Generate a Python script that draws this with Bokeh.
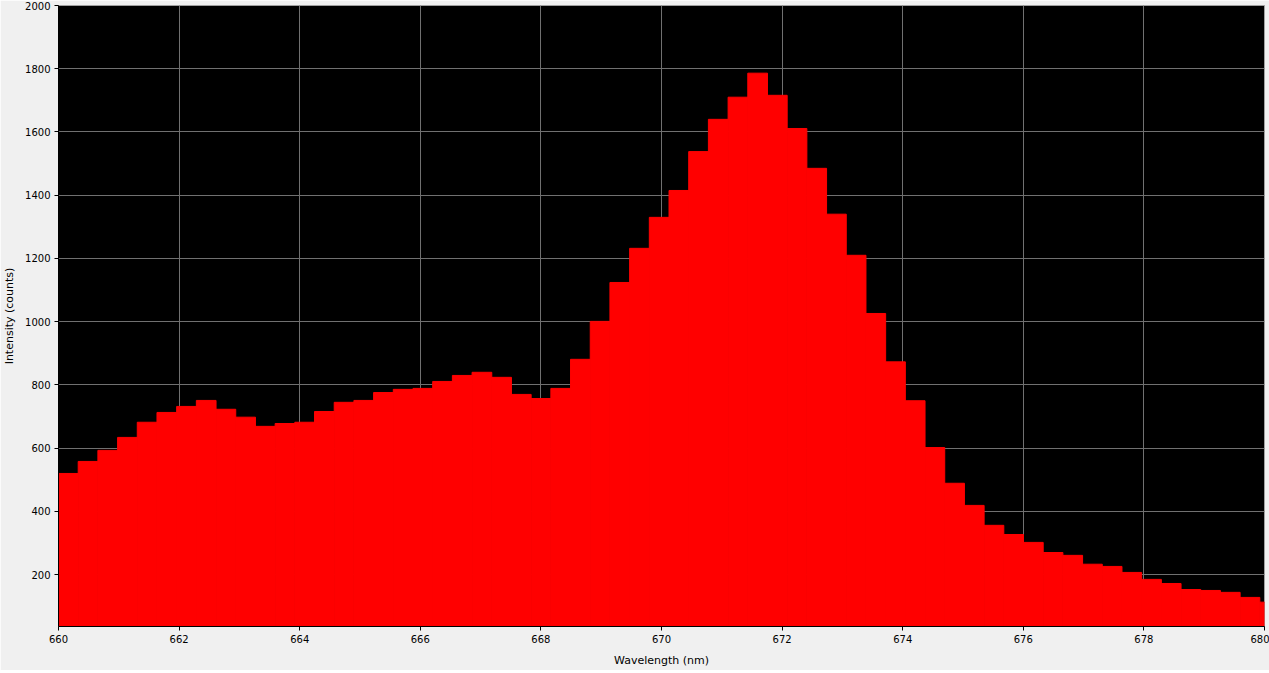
import numpy as np
from bokeh.plotting import figure
from bokeh.models import Range1d, FixedTicker, ColumnDataSource
from bokeh.embed import file_html
from bokeh.resources import INLINE

# Spectrum bins (evenly spaced), first bin starts at 660 nm
bin_start = 660.0
bin_width = 0.3266
intensity = [
    520, 558, 593, 634, 682, 713, 732, 751, 723, 698,
    669, 678, 682, 716, 745, 751, 776, 786, 789, 811,
    830, 840, 824, 770, 757, 789, 881, 1001, 1124, 1232,
    1330, 1415, 1538, 1640, 1710, 1786, 1716, 1611, 1485, 1340,
    1210, 1026, 873, 750, 602, 489, 419, 356, 327, 302,
    270, 261, 233, 226, 207, 185, 172, 153, 150, 144,
    128, 113,
]
x_ticks = [660, 662, 664, 666, 668, 670, 672, 674, 676, 678, 680]
y_ticks = [200, 400, 600, 800, 1000, 1200, 1400, 1600, 1800, 2000]

left = bin_start + bin_width * np.arange(len(intensity))
src = ColumnDataSource(dict(left=left, right=left + bin_width,
                            top=intensity, bottom=[0] * len(intensity)))

p = figure(frame_width=1206, frame_height=621,
           min_border_left=50, min_border_right=5, min_border_top=5, min_border_bottom=44,
           x_range=Range1d(660, 680), y_range=Range1d(36, 2000),
           output_backend="svg", toolbar_location=None)

p.background_fill_color = "black"
p.border_fill_color = "#f0f0f0"
p.outline_line_color = "#a0a0a0"

p.quad(left="left", right="right", top="top", bottom="bottom", source=src,
       fill_color="#ff0000", line_color="#ff0000", line_width=1)

p.xaxis.ticker = FixedTicker(ticks=x_ticks)
p.yaxis.ticker = FixedTicker(ticks=y_ticks)
p.xaxis.axis_label = "Wavelength (nm)"
p.yaxis.axis_label = "Intensity (counts)"

for ax in (p.xaxis, p.yaxis):
    ax.axis_line_color = "black"
    ax.major_tick_line_color = "black"
    ax.major_tick_out = 4
    ax.major_tick_in = 0
    ax.minor_tick_line_color = None
    ax.major_label_text_font = "DejaVu Sans"
    ax.major_label_text_font_size = "10px"
    ax.major_label_text_color = "black"
    ax.axis_label_text_font = "DejaVu Sans"
    ax.axis_label_text_font_size = "11px"
    ax.axis_label_text_font_style = "normal"
    ax.axis_label_text_color = "black"
    ax.major_label_standoff = 4
ax = None
p.xaxis.axis_label_standoff = 8
p.yaxis.axis_label_standoff = 6

p.grid.grid_line_color = "#707070"
p.grid.grid_line_width = 1

open("out.html", "w").write(file_html(p, INLINE))
